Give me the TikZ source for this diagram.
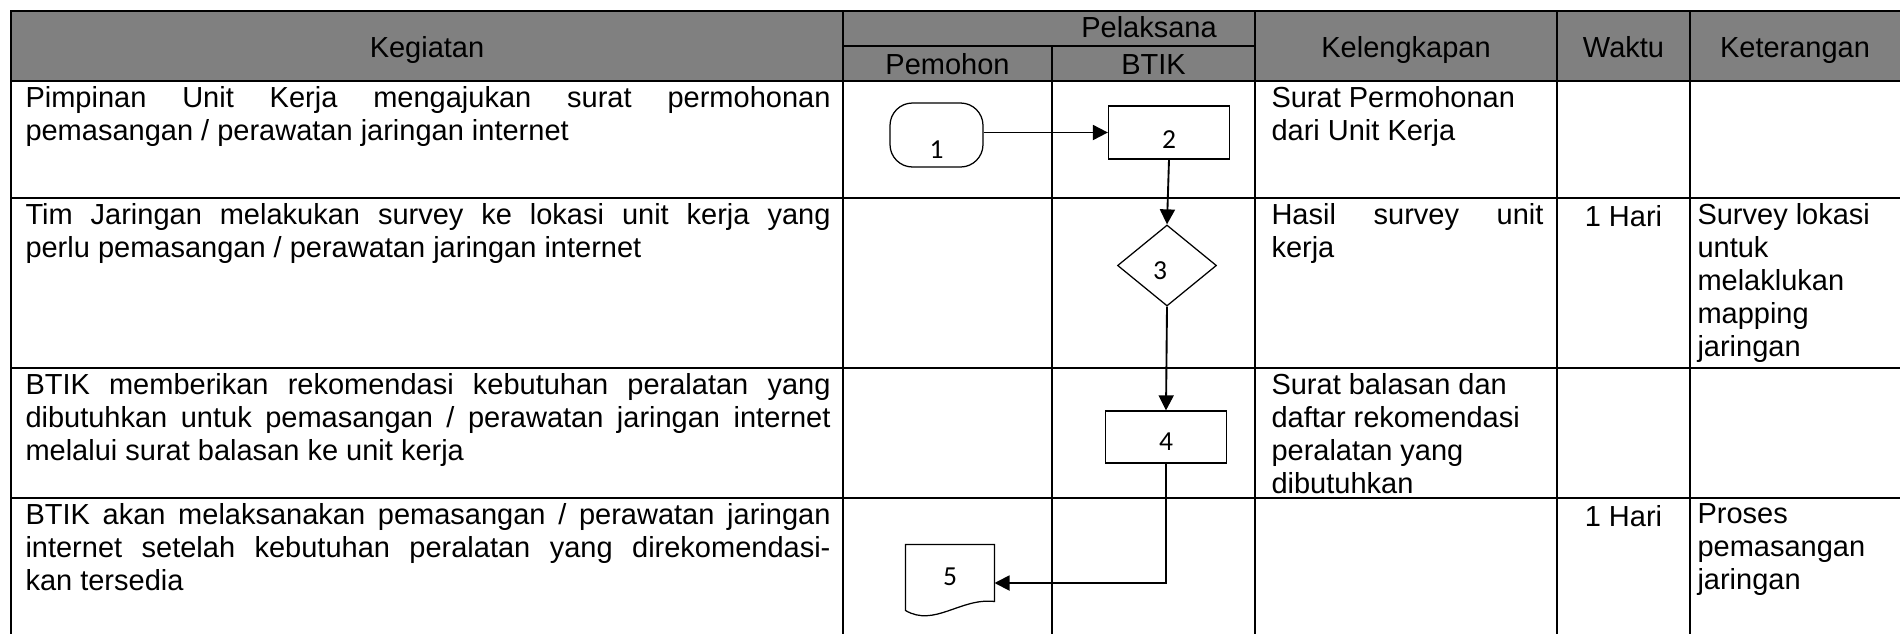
\documentclass[tikz,border=0pt]{standalone}
\usepackage{fontspec}
\setmainfont{Liberation Sans}
\newfontfamily\numfont{Carlito}
\usetikzlibrary{arrows.meta,shapes.geometric,calc}
\definecolor{headgray}{RGB}{128,128,128}

\begin{document}
\begin{tikzpicture}[x=0.4pt,y=-0.4pt,
  grid/.style={line width=1pt},
  txt/.style={inner sep=0pt, font=\fontsize{11.6}{13.2}\selectfont},
  cell/.style={txt, anchor=north west, align=left, execute at begin node=\strut},
  head/.style={txt, anchor=base},
  shp/.style={draw, line width=0.5pt, inner sep=0pt},
  num/.style={inner sep=0pt, font=\numfont\fontsize{11}{13}\selectfont},
  flow/.style={line width=0.75pt, -{Triangle[length=6pt,width=6pt]}},
]
\useasboundingbox (0,0) rectangle (1900,634);

% header band
\fill[headgray] (11,11) rectangle (1900,81);

% table rules
\draw[grid] (1900,11) -- (11,11) -- (11,634);
\draw[grid] (843,46) -- (1255,46);
\foreach \yy in {81,198,368,498} \draw[grid] (11,\yy) -- (1900,\yy);
\foreach \xx in {843,1255,1557,1690} \draw[grid] (\xx,11) -- (\xx,634);
\draw[grid] (1052,46) -- (1052,634);

% header labels
\node[head] (hkeg) at (427,57) {Kegiatan};
\node[head] (hpel) at (1149,37) {Pelaksana};
\node[head] (hpem) at (947.5,74) {Pemohon};
\node[head] (hbtik) at (1153.5,74) {BTIK};
\node[head] (hkel) at (1406,57) {Kelengkapan};
\node[head] (hwak) at (1623.5,57) {Waktu};
\node[head] (hket) at (1795,57) {Keterangan};

% activity column (justified lines)
\def\kw{322pt}
\node[cell] (k1) at (25,86) {\makebox[\kw][s]{Pimpinan Unit Kerja mengajukan surat permohonan}\\pemasangan / perawatan jaringan internet};
\node[cell] (k2) at (25,203) {\makebox[\kw][s]{Tim Jaringan melakukan survey ke lokasi unit kerja yang}\\perlu pemasangan / perawatan jaringan internet};
\node[cell] (k3) at (25,373) {\makebox[\kw][s]{BTIK memberikan rekomendasi kebutuhan peralatan yang}\\\makebox[\kw][s]{dibutuhkan untuk pemasangan / perawatan jaringan internet}\\melalui surat balasan ke unit kerja};
\node[cell] (k4) at (25,503) {\makebox[\kw][s]{BTIK akan melaksanakan pemasangan / perawatan jaringan}\\\makebox[\kw][s]{internet setelah kebutuhan peralatan yang direkomendasi-}\\kan tersedia};

% supporting documents
\node[cell] (l1) at (1271,86) {Surat Permohonan\\dari Unit Kerja};
\node[cell] (l2) at (1271,203) {\makebox[108.8pt][s]{Hasil survey unit}\\kerja};
\node[cell] (l3) at (1271,373) {Surat balasan dan\\daftar rekomendasi\\peralatan yang\\dibutuhkan};

% time
\node[head] (w2) at (1623.5,226) {1 Hari};
\node[head] (w4) at (1623.5,526) {1 Hari};

% remarks
\node[cell] (r2) at (1697,203) {Survey lokasi\\untuk\\melaklukan\\mapping\\jaringan};
\node[cell] (r4) at (1697,503) {Proses\\pemasangan\\jaringan};

% flow shapes
\node[shp, rounded corners=9pt, minimum width=37.2pt, minimum height=25.6pt,
  label={[num, yshift=-6pt]center:1}] (n1) at (936.5,135) {};
\node[shp, minimum width=48.4pt, minimum height=21.2pt,
  label={[num, yshift=-3pt]center:2}] (n2) at (1169,132.5) {};
\node[shp, diamond, minimum width=39.6pt, minimum height=32.4pt,
  label={[num, xshift=-2.8pt, yshift=-2.2pt]center:3}] (n3) at (1167,265.5) {};
\node[shp, minimum width=48.4pt, minimum height=20.8pt,
  label={[num, yshift=-1.9pt]center:4}] (n4) at (1166,437) {};
\node[inner sep=0pt, minimum width=35.2pt, minimum height=30.4pt,
  label={[num, yshift=2.5pt]center:5}] (n5) at (950,583) {};
\draw[line width=0.5pt] (n5.north west) -- (n5.north east)
  -- ($(n5.north east)+(0,57)$)
  .. controls ($(n5.north east)+(-34,53)$) and ($(n5.north west)+(29,83)$) .. ($(n5.north west)+(0,66)$)
  -- cycle;

% connectors
\draw[flow] (n1.east |- n2.west) -- (n2.west);
\draw[flow] (n2.south) -- (n3.north);
\draw[flow] (n3.south) -- (n4.north);
\draw[flow] (n4.south) |- (n5.east);
\end{tikzpicture}
\end{document}
